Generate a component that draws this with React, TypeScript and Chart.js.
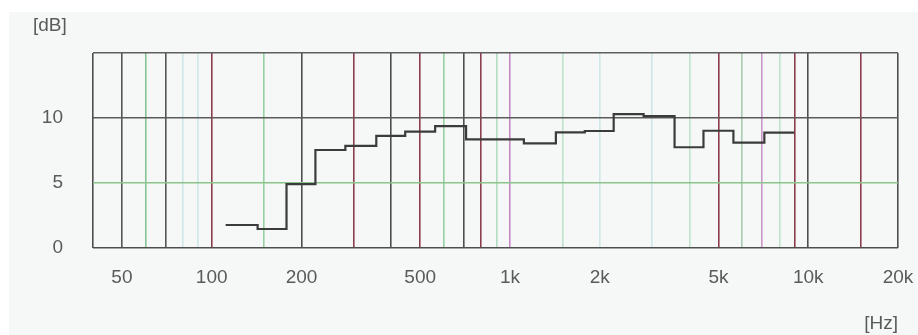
import React, { useEffect, useRef } from "react";
import { Chart, registerables } from "chart.js";

Chart.register(...registerables);

// 1/3-octave band centres (Hz) and measured levels (dB)
const bandCenters = [125, 160, 200, 250, 315, 400, 500, 630, 800, 1000, 1250, 1600, 2000, 2500, 3150, 4000, 5000, 6300, 8000];
const bandLevels = [1.77, 1.46, 4.92, 7.54, 7.85, 8.62, 8.95, 9.38, 8.36, 8.36, 8.05, 8.9, 9.0, 10.3, 10.15, 7.75, 9.02, 8.1, 8.87];

// vertical grid lines (Hz) and which ones carry a label
const gridFreqs = [40, 50, 60, 70, 80, 90, 100, 150, 200, 300, 400, 500, 600, 700, 800, 900, 1000, 1500, 2000, 3000, 4000, 5000, 6000, 7000, 8000, 9000, 10000, 15000, 20000];
const freqLabels: Record<number, string> = { 50: "50", 100: "100", 200: "200", 500: "500", 1000: "1k", 2000: "2k", 5000: "5k", 10000: "10k", 20000: "20k" };
const gridFreqColors: Record<number, string> = {
  40: "#4e4e4e", 50: "#555555", 60: "#86c496", 70: "#555555", 80: "#cfe7e7", 90: "#cfe7e7",
  100: "#8c3d4c", 150: "#94d0a2", 200: "#4e4e4e", 300: "#8c3d4c", 400: "#4e4e4e", 500: "#8c3d4c",
  600: "#94d0a2", 700: "#4e4e4e", 800: "#8c3d4c", 900: "#b3dcc0", 1000: "#c58ac5", 1500: "#bfe3cc",
  2000: "#cfe7e7", 3000: "#cfe7e7", 4000: "#bfe3cc", 5000: "#8c3d4c", 6000: "#a8cdb0", 7000: "#c996c9",
  8000: "#bfe3cc", 9000: "#8c3d4c", 10000: "#4e4e4e", 15000: "#8c3d4c", 20000: "#4e4e4e",
};
const dbTicks = [0, 5, 10, 15];
const dbLabels: Record<number, string> = { 0: "0", 5: "5", 10: "10", 15: "" };
const dbColors: Record<number, string> = { 0: "#4e4e4e", 5: "#8cc48c", 10: "#5a5a5a", 15: "#5e5e5e" };

const TEXT = "#5a5a5a";
const FONT = "Liberation Sans, Arial, sans-serif";

const overlay = {
  id: "overlay",
  beforeDraw(chart: any) {
    const { ctx } = chart;
    ctx.save();
    ctx.fillStyle = "#f6f8f7";
    ctx.fillRect(9, 12, chart.width - 9, chart.height - 12);
    ctx.restore();
  },
  afterDraw(chart: any) {
    const { ctx, chartArea } = chart;
    ctx.save();
    ctx.fillStyle = TEXT;
    ctx.font = `19px ${FONT}`;
    ctx.textBaseline = "middle";
    ctx.textAlign = "left";
    ctx.fillText("[dB]", 33, 26);
    ctx.textAlign = "right";
    ctx.fillText("[Hz]", chartArea.right, 324);
    ctx.restore();
  },
};

export default function App() {
  const ref = useRef<HTMLCanvasElement>(null);
  useEffect(() => {
    if (!ref.current) return;
    const pts = bandCenters.map((f, i) => ({ x: f * Math.pow(2, -1 / 6), y: bandLevels[i] }));
    const last = bandCenters.length - 1;
    pts.push({ x: bandCenters[last] * Math.pow(2, 1 / 6), y: bandLevels[last] });
    const chart = new Chart(ref.current, {
      type: "line",
      data: {
        datasets: [
          {
            data: pts,
            stepped: true,
            borderColor: "#3b3b3b",
            borderWidth: 2.2,
            pointRadius: 0,
            fill: false,
          },
        ],
      },
      options: {
        animation: false,
        responsive: false,
        layout: { padding: { left: 0, top: 53, right: 20, bottom: 0 } },
        plugins: { legend: { display: false }, tooltip: { enabled: false } },
        scales: {
          x: {
            type: "logarithmic",
            min: 40,
            max: 20000,
            afterBuildTicks: (s: any) => {
              s.ticks = gridFreqs.map((v) => ({ value: v }));
            },
            afterFit: (s: any) => {
              s.height = 87;
              s.paddingLeft = 0;
              s.paddingRight = 0;
            },
            border: { display: false },
            grid: {
              drawTicks: false,
              lineWidth: 1.6,
              color: (c: any) => gridFreqColors[c.tick?.value] ?? "#888",
            },
            ticks: {
              autoSkip: false,
              maxRotation: 0,
              padding: 18,
              color: TEXT,
              font: { family: FONT, size: 19 },
              callback: (v: any) => freqLabels[Number(v)] ?? "",
            },
          },
          y: {
            type: "linear",
            min: 0,
            max: 15,
            afterBuildTicks: (s: any) => {
              s.ticks = dbTicks.map((v) => ({ value: v }));
            },
            afterFit: (s: any) => {
              s.width = 93;
              s.paddingTop = 0;
              s.paddingBottom = 0;
            },
            border: { display: false },
            grid: {
              drawTicks: false,
              lineWidth: 1.6,
              color: (c: any) => dbColors[c.tick?.value] ?? "#888",
            },
            ticks: {
              padding: 30,
              color: TEXT,
              font: { family: FONT, size: 19 },
              callback: (v: any) => dbLabels[Number(v)] ?? "",
            },
          },
        },
      },
      plugins: [overlay],
    });
    return () => chart.destroy();
  }, []);
  return (
    <div style={{ position: "fixed", left: 0, top: 0, width: 918, height: 335, background: "#ffffff" }}>
      <canvas ref={ref} width={918} height={335} style={{ display: "block", width: 918, height: 335 }} />
    </div>
  );
}
